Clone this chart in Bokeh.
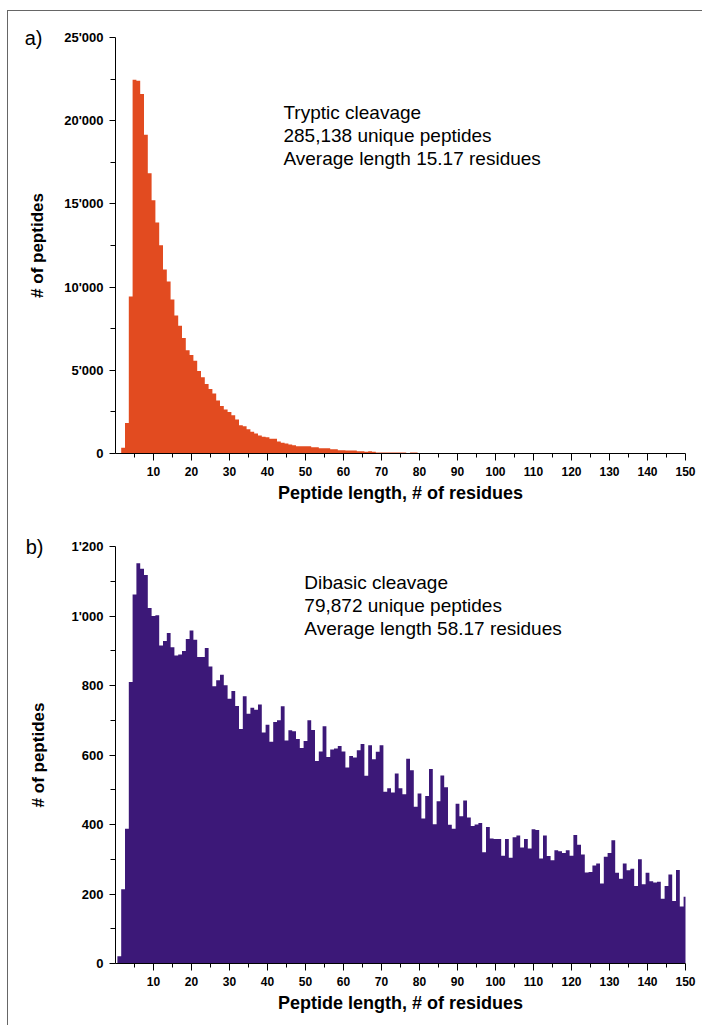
from bokeh.plotting import figure
from bokeh.models import Range1d, FixedTicker, Label, ColumnDataSource, LinearAxis, Div
from bokeh.layouts import column
from bokeh.embed import file_html
from bokeh.resources import INLINE

# ---------------- data ----------------
tryptic_lengths = list(range(1, 83))
tryptic_counts = [
    0, 340, 1840, 9440, 22460, 22400, 21600, 19160, 16840, 15220,
    13880, 12520, 11060, 10340, 9260, 8300, 7680, 6940, 6200, 5920,
    5580, 4960, 4580, 4180, 3880, 3600, 3180, 2860, 2640, 2500,
    2300, 2040, 1700, 1640, 1460, 1300, 1200, 1080, 1000, 980,
    880, 880, 720, 640, 600, 540, 500, 440, 440, 440,
    440, 380, 380, 320, 320, 320, 260, 260, 200, 200,
    180, 180, 180, 140, 140, 100, 140, 100, 60, 60,
    60, 60, 60, 60, 60, 60, 20, 60, 60, 20,
    20, 20,
]

dibasic_lengths = list(range(1, 151))
dibasic_counts = [
    21, 214, 388, 810, 1062, 1152, 1136, 1118, 1023, 1000,
    1002, 915, 928, 951, 910, 886, 889, 899, 934, 958,
    932, 882, 882, 908, 855, 798, 815, 831, 801, 762,
    784, 741, 675, 769, 719, 736, 730, 745, 665, 687,
    638, 695, 700, 740, 642, 671, 668, 646, 620, 640,
    700, 672, 583, 610, 683, 594, 616, 619, 626, 610,
    564, 597, 593, 614, 632, 540, 628, 588, 609, 628,
    494, 504, 492, 547, 504, 487, 589, 556, 451, 489,
    417, 482, 560, 401, 467, 541, 507, 399, 388, 460,
    424, 469, 420, 396, 400, 404, 320, 393, 360, 358,
    358, 310, 358, 304, 363, 368, 334, 358, 331, 386,
    384, 302, 368, 309, 297, 326, 323, 318, 326, 310,
    370, 342, 314, 262, 263, 282, 288, 230, 307, 318,
    355, 261, 244, 288, 268, 273, 223, 300, 228, 261,
    237, 233, 235, 186, 223, 256, 180, 269, 164, 192,
]

x_major = list(range(10, 151, 10))
x_minor = list(range(5, 150, 10))
a_y_major = [0, 5000, 10000, 15000, 20000, 25000]
a_y_minor = [2500, 7500, 12500, 17500, 22500]
a_y_labels = ["0", "5'000", "10'000", "15'000", "20'000", "25'000"]
b_y_major = [0, 200, 400, 600, 800, 1000, 1200]
b_y_minor = [100, 300, 500, 700, 900, 1100]
b_y_labels = ["0", "200", "400", "600", "800", "1'000", "1'200"]

a_text = ["Tryptic cleavage", "285,138 unique peptides", "Average  length 15.17 residues"]
b_text = ["Dibasic cleavage", "79,872 unique peptides", "Average  length 58.17 residues"]

ORANGE = "#E24B20"
PURPLE = "#3C1878"
FRAME = "#666666"
FONT = "Liberation Sans"


def make_panel(lengths, counts, color, ymax, ymaj, ymin, ylabels, height,
               top_border, bottom_border, letter, texts, text_x, text_y,
               text_dy, ylab_standoff, letter_standoff):
    p = figure(width=696, height=height, output_backend="svg",
               toolbar_location=None,
               x_range=Range1d(0, 150), y_range=Range1d(0, ymax),
               min_border_left=115, min_border_right=11,
               min_border_top=top_border, min_border_bottom=bottom_border)
    p.background_fill_color = "white"
    p.border_fill_color = "white"
    p.outline_line_color = None
    p.grid.visible = False

    # histogram drawn as one continuous stepped area (bin edges at n +/- 0.5)
    edges = [n - 0.5 for n in lengths] + [lengths[-1] + 0.5]
    heights = list(counts) + [counts[-1]]
    src = ColumnDataSource(dict(x=edges, y=heights))
    p.varea_step(x="x", y1=0, y2="y", step_mode="after", source=src,
                 fill_color=color)

    # x axis
    xa = p.xaxis[0]
    xa.ticker = FixedTicker(ticks=x_major, minor_ticks=x_minor)
    xa.axis_label = "Peptide length, # of residues"
    xa.axis_label_text_font = FONT
    xa.axis_label_text_font_style = "bold"
    xa.axis_label_text_font_size = "18px"
    xa.axis_label_text_color = "black"
    xa.axis_label_standoff = 4
    xa.major_label_text_font = FONT
    xa.major_label_text_font_style = "bold"
    xa.major_label_text_font_size = "12px"
    xa.major_label_text_color = "black"
    xa.major_label_standoff = 6
    xa.major_tick_in = 0
    xa.major_tick_out = 7
    xa.minor_tick_in = 0
    xa.minor_tick_out = 4
    xa.axis_line_color = "black"
    xa.major_tick_line_color = "black"
    xa.minor_tick_line_color = "black"

    # y axis
    ya = p.yaxis[0]
    ya.ticker = FixedTicker(ticks=ymaj, minor_ticks=ymin)
    ya.major_label_overrides = {v: s for v, s in zip(ymaj, ylabels)}
    ya.axis_label = "# of peptides"
    ya.axis_label_text_font = FONT
    ya.axis_label_text_font_style = "bold"
    ya.axis_label_text_font_size = "17px"
    ya.axis_label_text_color = "black"
    ya.axis_label_standoff = ylab_standoff
    ya.major_label_text_font = FONT
    ya.major_label_text_font_style = "bold"
    ya.major_label_text_font_size = "13px"
    ya.major_label_text_color = "black"
    ya.major_label_standoff = 6
    ya.major_tick_in = 0
    ya.major_tick_out = 6
    ya.minor_tick_in = 0
    ya.minor_tick_out = 5
    ya.axis_line_color = "black"
    ya.major_tick_line_color = "black"
    ya.minor_tick_line_color = "black"

    # panel letter: an outer, line-less axis carrying one label at the top
    la = LinearAxis(ticker=FixedTicker(ticks=[ymax], minor_ticks=[]),
                    major_label_overrides={ymax: letter})
    la.axis_line_color = None
    la.major_tick_line_color = None
    la.minor_tick_line_color = None
    la.major_tick_out = 0
    la.major_tick_in = 0
    la.major_label_standoff = letter_standoff
    la.major_label_text_font = FONT
    la.major_label_text_font_size = "20px"
    la.major_label_text_color = "black"
    p.add_layout(la, "left")

    for i, t in enumerate(texts):
        p.add_layout(Label(x=text_x, y=text_y - i * text_dy, text=t,
                           text_font=FONT, text_font_size="19px",
                           text_color="black", text_baseline="middle",
                           text_align="left"))
    return p


p1 = make_panel(tryptic_lengths, tryptic_counts, ORANGE, 25000,
                a_y_major, a_y_minor, a_y_labels, 508, 37, 55, "a)",
                a_text, 44.2, 20500, 1380, 14, -17)
p2 = make_panel(dibasic_lengths, dibasic_counts, PURPLE, 1200,
                b_y_major, b_y_minor, b_y_labels, 508, 38, 53, "b)",
                b_text, 49.7, 1097, 67, 20, -17)

frame_lines = Div(width=1, height=1, text=(
    f'<div style="position:fixed;left:7px;top:10px;width:695px;height:1px;'
    f'background:{FRAME}"></div>'
    f'<div style="position:fixed;left:7px;top:10px;width:1px;height:1015px;'
    f'background:{FRAME}"></div>'))

layout = column(p1, p2, frame_lines, spacing=0)

open("out.html", "w").write(file_html(layout, INLINE))
